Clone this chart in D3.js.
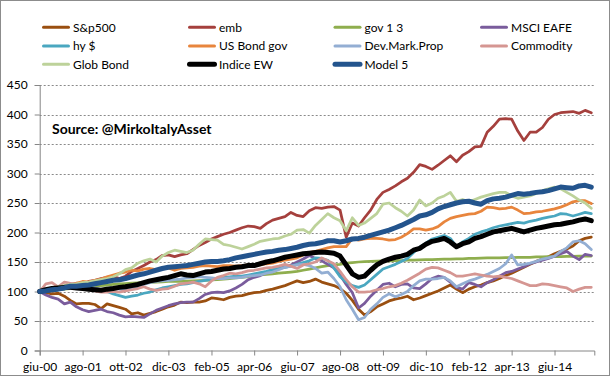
<!DOCTYPE html>
<html><head><meta charset="utf-8">
<script src="https://cdn.jsdelivr.net/npm/d3@7"></script>
<style>
body{margin:0;background:#fff}
svg{display:block;font-family:Lato,"Open Sans",sans-serif}
</style>
</head><body>
<svg id="chart" width="610" height="376"></svg>
<script>
// ---- data ----
const xLabels = ["giu-00","ago-01","ott-02","dic-03","feb-05","apr-06","giu-07","ago-08","ott-09","dic-10","feb-12","apr-13","giu-14"];
const yTicks = [0,50,100,150,200,250,300,350,400,450];
const seriesNames = ["S&p500","emb","gov 1 3","MSCI EAFE","hy $","US Bond gov","Dev.Mark.Prop","Commodity","Glob Bond","Indice EW","Model 5"];

const sp500 = [100,98,96,97,92,85,79,80,80,78, 71,79,76,73,70,62,64,60,63,66, 70,74,77,82,81,82,82,84,89,88, 86,90,92,93,96,98,99,102,104,107, 110,114,118,115,117,121,116,113,110,105, 97,85,70,60,66,74,79,84,87,89, 92,86,89,93,97,101,106,111,104,98, 104,108,111,115,118,122,127,131,136,141, 146,151,155,159,164,168,172,177,186,190, 192];
const emb = [100,102,104,106,108,112,114,113,117,119, 122,124,126,122,126,134,139,144,150,154, 161,162,159,162,164,171,178,183,189,193, 197,200,204,208,211,210,207,215,221,224, 227,234,229,227,237,242,241,243,244,238, 192,216,211,225,238,256,268,273,279,286, 292,302,315,312,307,314,322,330,320,331, 337,345,346,370,380,392,393,392,372,356, 370,370,378,392,400,403,404,405,402,407, 403];
const gov13 = [100,101,102,103,104,105,106,107,108,109, 110,111,112,113,113.5,114,114.5,115,115.5,116, 116.5,117,117,117,117.5,118,118.5,119,119.5,120, 121,122,123,124,125,127,128,129,130,131, 132,133,134,136,138,140,142,144,145,146, 148,149,150,150.5,151,151.5,152,152,152.5,152.5, 153,153,153.5,154,154,154.5,155,155,155.5,155.5, 156,156,156.5,157,157,157,157.5,157.5,158,158, 158,158.5,158.5,159,159,159,159.5,159.5,160,160, 160];
const eafe = [100,94,90,87,79,82,74,69,66,68, 70,66,64,60,57,58,57,56,62,68, 72,76,79,81,82,82,88,95,98,99, 98,101,106,112,120,124,127,132,136,139, 142,145,150,155,161,156,152,146,140,128, 112,98,72,80,92,102,112,114,108,112, 113,106,105,113,122,126,124,116,107,104, 115,112,108,115,120,126,132,134,138,142, 147,150,153,156,160,164,168,160,154,163, 161];
const hy = [100,102,104,103,105,106,107,105,106,105, 103,100,96,93,90,92,94,97,99,103, 106,108,110,112,113,115,117,119,120,122, 124,125,126,126,128,130,132,134,137,139, 141,143,146,149,152,157,156,153,140,125, 116,110,107,111,120,129,138,142,146,151, 156,166,175,182,189,192,195,190,176,184, 190,197,201,204,208,211,213,215,217,216, 219,221,224,226,228,232,231,228,231,234, 232];
const usgov = [100,101,103,105,108,111,114,117,116,119, 121,125,128,131,133,136,135,138,139,137, 138,140,136,139,140,141,143,144,143,142, 144,144,143,144,145,144,145,147,148,151, 153,155,157,162,166,168,171,174,176,176, 176,190,187,189,190,190,189,187,188,192, 198,206,206,204,206,210,218,224,227,229, 231,232,236,243,242,240,241,243,238,232, 233,235,236,238,240,243,247,252,254,254, 249];
const devprop = [100,104,106,104,107,105,108,106,104,106, 103,105,107,104,102,104,108,112,115,117, 118,119,120,121,123,124,125,124,123,122, 122,123,123,124,126,127,128,131,133,137, 141,143,145,146,144,139,131,133,122,108, 86,70,52,56,70,79,90,96,91,95, 100,110,118,121,121,122,124,118,108,113, 118,121,125,129,134,139,147,162,145,146, 148,151,155,157,160,168,174,184,186,181, 171];
const commodity = [100,113,115,108,116,114,112,110,104,101, 99,99,100,99,101,103,105,108,104,102, 104,105,109,113,114,116,113,108,118,124, 127,131,130,132,135,136,138,140,141,143, 146,143,139,145,147,150,157,152,147,134, 120,108,99,99,100,103,105,108,110,114, 119,125,131,138,141,140,136,132,126,126, 128,130,128,126,125,126,124,122,118,114, 110,110,113,112,110,108,106,100,104,107, 107];
const globBond = [100,103,106,108,110,112,113,115,116,118, 120,122,125,130,137,140,148,152,155,150, 160,166,170,168,166,170,180,189,188,187, 180,178,175,172,176,180,185,187,189,190, 194,197,204,205,199,212,222,232,225,220, 203,225,212,216,224,232,248,250,242,236, 228,238,255,245,250,258,262,268,253,256, 252,256,260,263,266,268,268,262,258,260, 262,266,271,274,277,274,268,262,255,250, 241];
const indiceEW = [100,103,105,106,107,107,106,105,104,103, 102,104,105,107,108,110,112,115,118,120, 122,124,127,130,128,127,130,133,134,136, 138,139,141,142,144,144,147,150,152,155, 158,160,162,164,165,166,167,166,165,160, 145,130,124,126,136,145,151,155,158,160, 163,170,173,180,185,187,190,184,176,181, 184,190,193,197,201,203,205,207,204,201, 204,207,209,211,213,214,216,218,221,223, 220];
const model5 = [100,101,103,104,106,109,109,110,111,113, 115,117,119,120,122,125,128,130,133,136, 139,141,142,143,144,146,148,150,151,151, 152,154,157,159,161,163,165,167,168,170, 171,173,175,178,180,181,183,186,186,184, 186,189,190,192,195,198,201,204,208,212, 217,222,228,230,234,240,244,247,250,252, 253,250,248,254,257,258,260,263,266,265, 266,268,269,271,274,277,276,275,279,280, 277];

const seriesValues = [sp500, emb, gov13, eafe, hy, usgov, devprop, commodity, globBond, indiceEW, model5];

// ---- styles ----
const colors = ["#9a4f10","#a5403d","#8fae4e","#7a5c9c","#4aa7c0","#e8853d","#93aed3","#d59692","#bdd29a","#000000","#23548d"];
const widths = [2.75,2.75,2.75,2.75,2.75,2.75,2.75,2.75,2.75,5,5];

// ---- scales ----
const start = new Date(2000, 5, 1);
const dates = d3.range(sp500.length).map(i => d3.timeMonth.offset(start, 2 * i));
const svg = d3.select("#chart");
const W = 610, H = 376;
const plot = {left: 39.7, right: 594.3, top: 85, bottom: 350.5};

svg.append("rect").attr("x",0.5).attr("y",0.5).attr("width",W-1).attr("height",H-1)
  .attr("fill","#fff").attr("stroke","#8c8c8c");

const x = d3.scaleTime().domain([start, d3.timeMonth.offset(start, 181)]).range([plot.left, plot.right]);
const y = d3.scaleLinear().domain([0, 450]).range([plot.bottom, plot.top]);

// gridlines
svg.append("g").selectAll("line").data(yTicks.filter(v => v > 0)).join("line")
  .attr("x1", plot.left).attr("x2", plot.right)
  .attr("y1", d => Math.round(y(d)) + 0.5).attr("y2", d => Math.round(y(d)) + 0.5)
  .attr("stroke", "#8a8a8a").attr("stroke-width", 1).attr("stroke-dasharray", "2,2");

// axes
const yAxis = d3.axisLeft(y).tickValues(yTicks).tickSize(5).tickPadding(7).tickFormat(d3.format("d"));
const gy = svg.append("g").attr("transform", `translate(${plot.left},0)`).call(yAxis);
const xTickDates = xLabels.map((l, k) => d3.timeMonth.offset(start, 14 * k));
const xAxis = d3.axisBottom(x).tickValues(xTickDates).tickSize(5).tickPadding(7)
  .tickFormat((d, i) => xLabels[i]);
const gx = svg.append("g").attr("transform", `translate(0,${plot.bottom})`).call(xAxis);
[gy, gx].forEach(g => {
  g.select(".domain").attr("stroke", "#868686");
  g.selectAll(".tick line").attr("stroke", "#868686");
  g.selectAll("text").attr("fill", "#000").style("font-size", "12px").style("font-family", "Lato, sans-serif");
});

// lines
const line = d3.line().x((d, i) => x(dates[i])).y(d => y(d));
svg.append("g").selectAll("path").data(seriesValues).join("path")
  .attr("d", d => line(d))
  .attr("fill", "none")
  .attr("stroke", (d, i) => colors[i])
  .attr("stroke-width", (d, i) => widths[i])
  .attr("stroke-linejoin", "round").attr("stroke-linecap", "round");

// source note
svg.append("text").attr("x", 52).attr("y", 134).text("Source: @MirkoItalyAsset")
  .style("font-weight", "bold").style("font-size", "14px").attr("fill", "#000");

// legend
const colX = [43.5, 189.5, 335, 481.5];
const rowY = [27.3, 46, 64.3];
const lg = svg.append("g");
seriesNames.forEach((name, i) => {
  const c = i % 4, r = Math.floor(i / 4);
  const g = lg.append("g").attr("transform", `translate(${colX[c]},${rowY[r]})`);
  g.append("line").attr("x1", 0).attr("x2", 25).attr("y1", 0).attr("y2", 0)
    .attr("stroke", colors[i]).attr("stroke-width", widths[i] === 5 ? 5 : 3).attr("stroke-linecap", "round");
  g.append("text").attr("x", 29.5).attr("y", 4.3).text(name)
    .style("font-size", "12px").attr("fill", "#000");
});
</script>
</body></html>
